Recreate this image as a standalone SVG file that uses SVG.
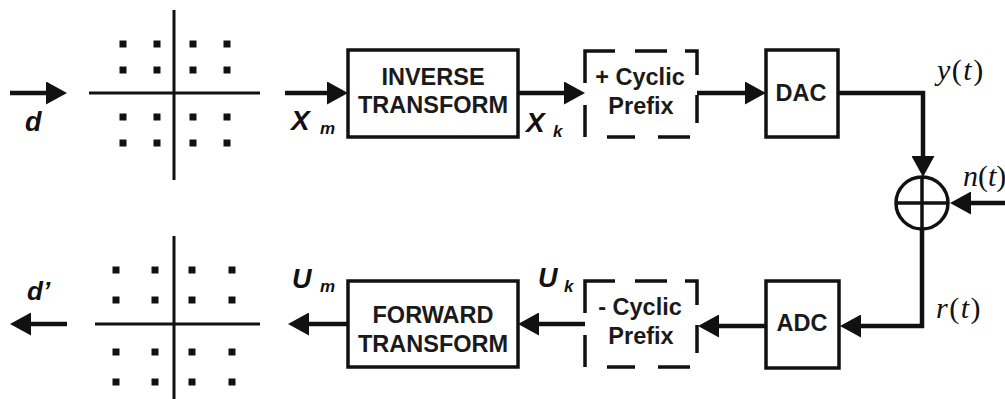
<svg xmlns="http://www.w3.org/2000/svg" width="1005" height="399" viewBox="0 0 1005 399">
<style>
.box{fill:none;stroke:#111;stroke-width:3.5}
.dash{fill:none;stroke:#111;stroke-width:3.5;stroke-linecap:butt}
.axis{fill:none;stroke:#111;stroke-width:3}
.dot{fill:#111}
.con{fill:none;stroke:#111;stroke-width:4.5}
.t{font-family:"Liberation Sans",Arial,sans-serif;font-weight:bold;font-size:23.5px;fill:#1a1a1a;text-anchor:middle}
.lab{font-family:"Liberation Sans",Arial,sans-serif;font-weight:bold;font-style:italic;fill:#111}
.math{font-family:"Liberation Serif","Times New Roman",serif;font-size:30px;fill:#111}
</style>
<defs>
<marker id="ah" viewBox="0 0 21 23" refX="13" refY="11.5" markerWidth="21" markerHeight="23" markerUnits="userSpaceOnUse" orient="auto">
<path d="M0,0 L21,11.5 L0,23 Z" fill="#111"/>
</marker>
</defs>
<rect width="1005" height="399" fill="#fff"/>

<g id="constellation-tx">
<path class="axis" d="M89,93 H260 M174,10 V180"/>
<g class="dot">
<rect x="119.5" y="40.5" width="7" height="7"/><rect x="153.5" y="40.5" width="7" height="7"/><rect x="189.5" y="40.5" width="7" height="7"/><rect x="223.5" y="40.5" width="7" height="7"/>
<rect x="119.5" y="66.5" width="7" height="7"/><rect x="153.5" y="66.5" width="7" height="7"/><rect x="189.5" y="66.5" width="7" height="7"/><rect x="223.5" y="66.5" width="7" height="7"/>
<rect x="119.5" y="113.5" width="7" height="7"/><rect x="153.5" y="113.5" width="7" height="7"/><rect x="189.5" y="113.5" width="7" height="7"/><rect x="223.5" y="113.5" width="7" height="7"/>
<rect x="119.5" y="139.5" width="7" height="7"/><rect x="153.5" y="139.5" width="7" height="7"/><rect x="189.5" y="139.5" width="7" height="7"/><rect x="223.5" y="139.5" width="7" height="7"/>
</g>
</g>

<g id="constellation-rx">
<path class="axis" d="M95,324 H260 M174,236 V399"/>
<g class="dot">
<rect x="112.5" y="266.5" width="7" height="7"/><rect x="151.5" y="266.5" width="7" height="7"/><rect x="188.5" y="266.5" width="7" height="7"/><rect x="228.5" y="266.5" width="7" height="7"/>
<rect x="112.5" y="296.5" width="7" height="7"/><rect x="151.5" y="296.5" width="7" height="7"/><rect x="188.5" y="296.5" width="7" height="7"/><rect x="228.5" y="296.5" width="7" height="7"/>
<rect x="112.5" y="348.5" width="7" height="7"/><rect x="151.5" y="348.5" width="7" height="7"/><rect x="188.5" y="348.5" width="7" height="7"/><rect x="228.5" y="348.5" width="7" height="7"/>
<rect x="112.5" y="378.5" width="7" height="7"/><rect x="151.5" y="378.5" width="7" height="7"/><rect x="188.5" y="378.5" width="7" height="7"/><rect x="228.5" y="378.5" width="7" height="7"/>
</g>
</g>

<g id="inverse">
<rect class="box" x="348" y="50" width="170" height="87"/>
<text class="t" x="433" y="85">INVERSE</text>
<text class="t" x="433" y="113">TRANSFORM</text>
</g>

<g id="add-cp">
<path class="dash" d="M585,83 V51 H615 M635,51 H667 M685,51 H697 V75 M697,95 V123 M690,137 H658 M635,137 H607 M585,137 V105"/>
<text class="t" x="640" y="85">+ Cyclic</text>
<text class="t" x="641" y="114">Prefix</text>
</g>

<g id="dac">
<rect class="box" x="766" y="50" width="72" height="87"/>
<text class="t" x="801" y="101">DAC</text>
</g>

<g id="sum">
<circle class="box" cx="922" cy="203" r="26" stroke-width="4"/>
<path class="box" stroke-width="3.5" d="M896,203 H948 M922,177 V229"/>
</g>

<g id="adc">
<rect class="box" x="766" y="281" width="73" height="87"/>
<text class="t" x="802" y="331">ADC</text>
</g>

<g id="rem-cp">
<path class="dash" d="M585,313 V281 H615 M635,281 H667 M685,281 H697 V305 M697,325 V353 M690,367 H658 M635,367 H607 M585,367 V335"/>
<text class="t" x="640" y="315">- Cyclic</text>
<text class="t" x="641" y="344">Prefix</text>
</g>

<g id="forward">
<rect class="box" x="348" y="281" width="170" height="86"/>
<text class="t" x="433" y="323">FORWARD</text>
<text class="t" x="433" y="352">TRANSFORM</text>
</g>

<g id="connectors">
<path class="con" marker-end="url(#ah)" d="M10,93 H59"/>
<path class="con" marker-end="url(#ah)" d="M285,93 H340"/>
<path class="con" marker-end="url(#ah)" d="M518,93 H577"/>
<path class="con" marker-end="url(#ah)" d="M697,93 H758"/>
<path class="con" marker-end="url(#ah)" d="M838,93 H923 V169"/>
<path class="con" marker-end="url(#ah)" d="M1005,203 H958"/>
<path class="con" marker-end="url(#ah)" d="M922,229 V326 H848"/>
<path class="con" marker-end="url(#ah)" d="M766,326 H706"/>
<path class="con" marker-end="url(#ah)" d="M585,324 H526"/>
<path class="con" marker-end="url(#ah)" d="M348,324 H296"/>
<path class="con" marker-end="url(#ah)" d="M67,324 H18"/>
</g>

<g id="labels">
<text class="lab" x="25" y="131" font-size="27">d</text>
<text class="lab" x="291" y="130" font-size="28">X</text>
<text class="lab" x="320" y="134" font-size="17">m</text>
<text class="lab" x="526" y="132" font-size="28">X</text>
<text class="lab" x="553" y="137" font-size="17">k</text>
<text class="lab" x="538" y="287" font-size="27">U</text>
<text class="lab" x="564" y="292" font-size="17">k</text>
<text class="lab" x="292" y="288" font-size="27">U</text>
<text class="lab" x="320" y="292" font-size="17">m</text>
<text class="lab" x="27" y="300" font-size="26">d’</text>
<text class="math" x="937" y="80" letter-spacing="1.5"><tspan font-style="italic">y</tspan>(<tspan font-style="italic">t</tspan>)</text>
<text class="math" x="936" y="318" letter-spacing="1.5"><tspan font-style="italic">r</tspan>(<tspan font-style="italic">t</tspan>)</text>
<text class="math" x="963" y="186" font-size="25"><tspan font-style="italic">n</tspan>(<tspan font-style="italic">t</tspan>)</text>
</g>
</svg>
